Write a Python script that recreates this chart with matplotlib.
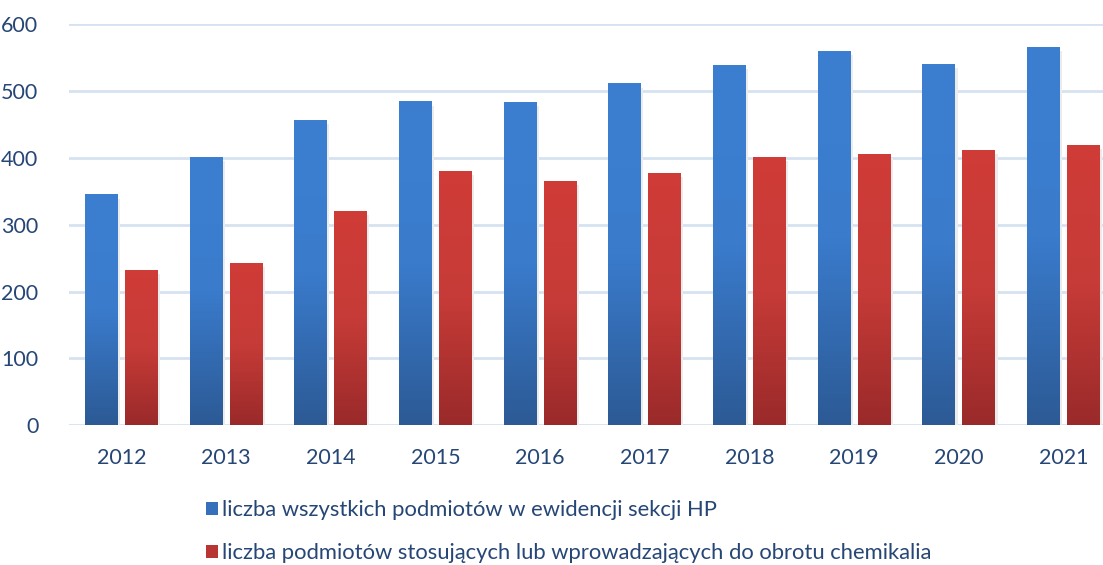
import matplotlib
matplotlib.use("Agg")
import matplotlib.pyplot as plt
import numpy as np
from matplotlib.colors import LinearSegmentedColormap
from matplotlib.patches import Patch

years = ["2012", "2013", "2014", "2015", "2016", "2017", "2018", "2019", "2020", "2021"]
all_entities = [344, 400, 456, 483, 482, 510, 537, 558, 539, 564]
chem_entities = [231, 241, 319, 379, 364, 376, 400, 404, 411, 418]
labels = [
    "liczba wszystkich podmiotów w ewidencji sekcji HP",
    "liczba podmiotów stosujących lub wprowadzających do obrotu chemikalia",
]

text_color = "#264676"
grid_color = "#d6e2f1"
plt.rcParams["font.family"] = ["Lato", "DejaVu Sans"]

# gradient maps, bottom -> top
blue_cm = LinearSegmentedColormap.from_list("b", ["#2c5a95", "#3a7bcc", "#3c7fd0"])
red_cm = LinearSegmentedColormap.from_list("r", ["#9a2a2a", "#c63b37", "#d03c38"])

fig = plt.figure(figsize=(11.03, 5.65), dpi=100)
ax = fig.add_axes([69 / 1103, 1 - 425.3 / 565, 1047 / 1103, 401.3 / 565])

x = np.arange(len(years))
w = 0.315
off = 0.191


def gradient_bars(xpos, vals, cmap):
    # soft shadow behind each bar
    ax.bar(xpos + 0.015, np.array(vals) - 2, w + 0.01, bottom=-3, color="#ececec", zorder=1)
    bars = ax.bar(xpos, vals, w, color="none", zorder=2)
    grad = np.linspace(0, 1, 256).reshape(-1, 1)
    for b in bars:
        x0, y0 = b.get_x(), b.get_y()
        ax.imshow(grad, extent=[x0, x0 + b.get_width(), y0, y0 + b.get_height()],
                  origin="lower", aspect="auto", cmap=cmap, zorder=3)


gradient_bars(x - off, all_entities, blue_cm)
gradient_bars(x + off, chem_entities, red_cm)

ax.set_xlim(-0.5, len(years) - 0.5)
ax.set_ylim(0, 600)
ax.set_yticks(range(0, 601, 100))
ax.set_xticks(x)
ax.set_xticklabels(years)
ax.grid(axis="y", color=grid_color, linewidth=2)
ax.set_axisbelow(True)
for s in ax.spines.values():
    s.set_visible(False)
ax.tick_params(length=0, labelsize=15.5, colors=text_color)
ax.tick_params(axis="y", pad=22)
ax.tick_params(axis="x", pad=16)

handles = [Patch(facecolor="#3670bb"), Patch(facecolor="#b83534")]
fig.legend(handles, labels, loc="center left", bbox_to_anchor=(195 / 1103, 1 - 531.5 / 565),
           frameon=False, fontsize=15.8, labelcolor=text_color, handlelength=0.55,
           handleheight=0.55, handletextpad=0.2, labelspacing=1.05, borderpad=0)

fig.savefig("out.png", dpi=100)
